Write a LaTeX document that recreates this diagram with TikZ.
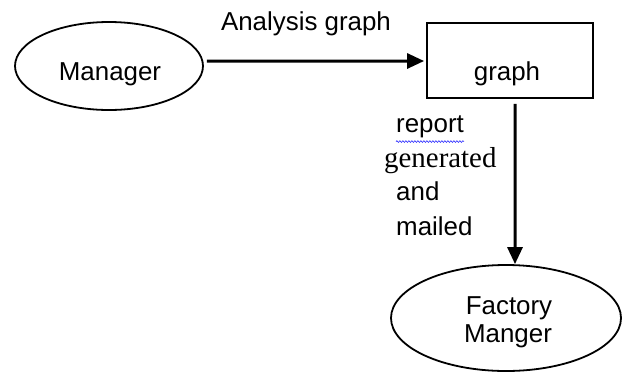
\documentclass[tikz,border=0pt]{standalone}
\usepackage{fontspec}
\setmainfont{Liberation Sans}
\newfontfamily\serifface{Liberation Serif}
\usetikzlibrary{arrows.meta,decorations.pathmorphing,shapes.geometric}
\begin{document}
\begin{tikzpicture}[x=1bp,y=1bp,
  txt/.style={font=\fontsize{26}{30}\selectfont, inner sep=0pt},
  oval/.style={draw, ellipse, line width=1.8bp, inner sep=0pt},
  boxshape/.style={draw, rectangle, line width=1.8bp, inner sep=0pt, minimum width=166bp, minimum height=75bp},
  arr/.style={line width=3bp, -{Triangle[length=17bp,width=15bp]}}]
\useasboundingbox (0,0) rectangle (626,-372);
\fill[white] (0,0) rectangle (626,-372);
% shapes
\node[oval, minimum width=188bp, minimum height=88bp] (man) at (109,-66) {};
\node[boxshape] (g) at (510,-60.5) {};
\node[oval, minimum width=230bp, minimum height=106bp] (fm) at (506,-318) {};
% texts
\node[txt, anchor=base] (mant) at (110,-80) {Manager};
\node[txt, anchor=base] (gt) at (507,-80) {graph};
\node[txt, anchor=base] (ag) at (306,-30) {Analysis graph};
\node[txt, anchor=base] (f1) at (509,-314) {Factory};
\node[txt, anchor=base] (f2) at (508,-342) {Manger};
\node[txt, anchor=base west] (r1) at (396,-132) {report};
\node[inner sep=0pt, anchor=base west, font=\serifface\fontsize{29}{33}\selectfont] (r2) at (384,-167) {generated};
\node[txt, anchor=base west] (r3) at (396,-200) {and};
\node[txt, anchor=base west] (r4) at (396,-235) {mailed};
\draw[blue!80, line width=0.6bp, decorate, decoration={snake, amplitude=0.9bp, segment length=3bp}]
  ([yshift=-4bp]r1.south west) -- ([yshift=-4bp]r1.south east);
% connectors
\draw[arr] ([xshift=3bp,yshift=5bp]man.east) -- ([xshift=-2bp,yshift=-0.5bp]g.west);
\draw[arr] ([xshift=5bp,yshift=-5bp]g.south) -- ([xshift=9bp]fm.north);
\end{tikzpicture}
\end{document}
